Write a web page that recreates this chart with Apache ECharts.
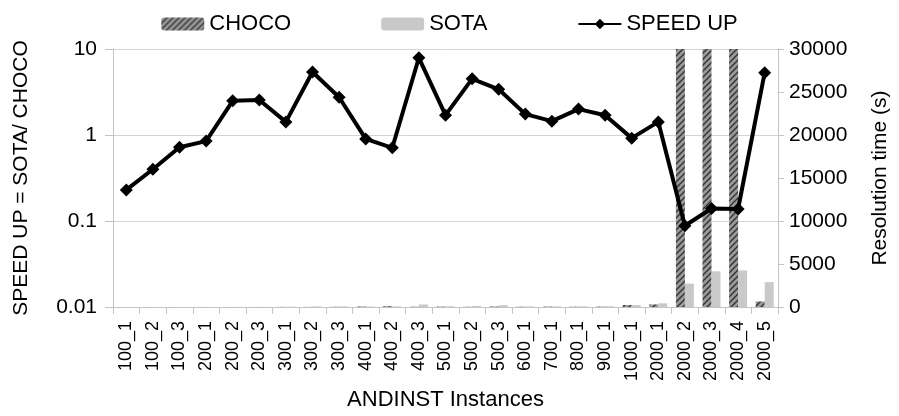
<!DOCTYPE html>
<html>
<head>
<meta charset="utf-8">
<script src="https://cdn.jsdelivr.net/npm/echarts@6/dist/echarts.min.js"></script>
<style>
  html, body { margin: 0; padding: 0; background: #fff; }
  #chart { width: 899px; height: 416px; }
</style>
</head>
<body>
<div id="chart"></div>
<script>
  var categories = ['100_1', '100_2', '100_3', '200_1', '200_2', '200_3', '300_1', '300_2', '300_3',
    '400_1', '400_2', '400_3', '500_1', '500_2', '500_3', '600_1', '700_1', '800_1', '900_1',
    '1000_1', '2000_1', '2000_2', '2000_3', '2000_4', '2000_5']
  // resolution time in seconds (right axis)
  var chocoTime = [3, 4, 5, 8, 6, 10, 20, 15, 30, 60, 100, 40, 50, 30, 60, 40, 50, 40, 50,
    230, 300, 36000, 36000, 36000, 650]
  var sotaTime = [1, 2, 4, 7, 15, 26, 30, 80, 80, 55, 73, 300, 88, 135, 210, 70, 75, 80, 88,
    220, 430, 2720, 4150, 4250, 2900]
  // speed up = SOTA / CHOCO (left log axis)
  var speedUp = [0.23, 0.40, 0.72, 0.85, 2.5, 2.55, 1.42, 5.4, 2.75, 0.9, 0.71, 7.9, 1.7,
    4.5, 3.4, 1.75, 1.45, 2.0, 1.7, 0.92, 1.42, 0.088, 0.14, 0.138, 5.3]
  var leftTicks = [0.01, 0.1, 1, 10]

  var font = 'Liberation Sans, Arial, sans-serif'

  // hatched fill for the CHOCO bars
  function hatch () {
    var c = document.createElement('canvas')
    c.width = 6
    c.height = 6
    var g = c.getContext('2d')
    g.fillStyle = '#999999'
    g.fillRect(0, 0, 6, 6)
    g.strokeStyle = '#333333'
    g.lineWidth = 1.4
    g.beginPath()
    g.moveTo(0, 6); g.lineTo(6, 0)
    g.moveTo(-1, 1); g.lineTo(1, -1)
    g.moveTo(5, 7); g.lineTo(7, 5)
    g.stroke()
    return c
  }

  var chart = echarts.init(document.getElementById('chart'))
  var option = {
    animation: false,
    textStyle: { fontFamily: font, color: '#000' },
    legend: {
      top: 8,
      left: 'center',
      itemWidth: 43,
      itemHeight: 13,
      itemGap: 90,
      textStyle: { fontSize: 22, color: '#000', fontFamily: font },
      data: ['CHOCO', 'SOTA', 'SPEED UP']
    },
    grid: { left: 113, right: 119, top: 49, bottom: 108 },
    xAxis: {
      type: 'category',
      data: categories,
      name: 'ANDINST Instances',
      nameLocation: 'middle',
      nameGap: 80,
      nameTextStyle: { fontSize: 22, color: '#000' },
      axisLine: { lineStyle: { color: '#c4c4c4' } },
      axisTick: { show: true, length: 7, lineStyle: { color: '#c4c4c4' } },
      axisLabel: { rotate: 90, fontSize: 18, color: '#000', margin: 14, interval: 0 }
    },
    yAxis: [
      {
        type: 'log',
        logBase: 10,
        min: 0.01,
        max: 10,
        position: 'left',
        name: 'SPEED UP = SOTA/ CHOCO',
        nameLocation: 'middle',
        nameRotate: 90,
        nameGap: 81,
        nameTextStyle: { fontSize: 21, color: '#000' },
        axisLine: { show: true, lineStyle: { color: '#c4c4c4' } },
        axisTick: { show: true, length: 8, lineStyle: { color: '#c4c4c4' } },
        axisLabel: {
          fontSize: 21,
          color: '#000',
          margin: 16,
          formatter: function (v) {
            for (var i = 0; i < leftTicks.length; i++) {
              if (Math.abs(v - leftTicks[i]) < leftTicks[i] * 0.01) return String(leftTicks[i])
            }
            return ''
          }
        },
        splitLine: { show: true, lineStyle: { color: '#d4d4d4' } }
      },
      {
        type: 'value',
        min: 0,
        max: 30000,
        interval: 5000,
        position: 'right',
        name: 'Resolution time (s)',
        nameLocation: 'middle',
        nameRotate: 90,
        nameGap: 92,
        nameTextStyle: { fontSize: 21, color: '#000' },
        axisLine: { show: true, lineStyle: { color: '#c4c4c4' } },
        axisTick: { show: true, length: 6, lineStyle: { color: '#c4c4c4' } },
        axisLabel: {
          fontSize: 21,
          color: '#000',
          margin: 11,
          formatter: function (v) { return String(v) }
        },
        splitLine: { show: false }
      }
    ],
    series: [
      {
        name: 'CHOCO',
        type: 'bar',
        yAxisIndex: 1,
        barWidth: 9,
        barGap: '0%',
        itemStyle: { color: { image: hatch(), repeat: 'repeat' } },
        data: chocoTime
      },
      {
        name: 'SOTA',
        type: 'bar',
        yAxisIndex: 1,
        barWidth: 9,
        barGap: '0%',
        itemStyle: { color: '#c9c9c9' },
        data: sotaTime
      },
      {
        name: 'SPEED UP',
        type: 'line',
        yAxisIndex: 0,
        symbol: 'diamond',
        symbolSize: 13,
        lineStyle: { color: '#000', width: 4 },
        itemStyle: { color: '#000' },
        data: speedUp,
        z: 5
      }
    ]
  }
  chart.setOption(option)
</script>
</body>
</html>
